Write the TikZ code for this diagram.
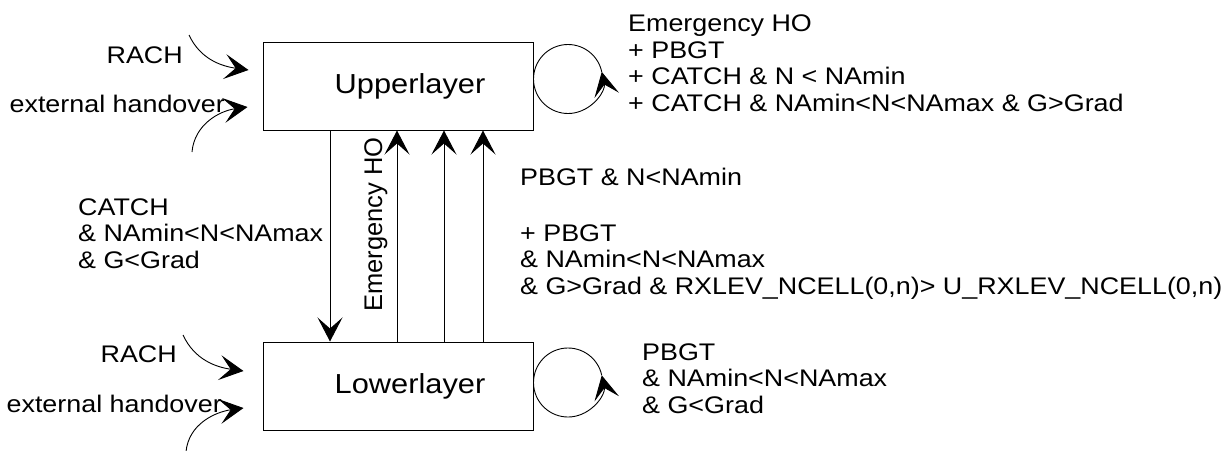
\documentclass[tikz,border=0pt]{standalone}
\usepackage{fontspec}
\newfontfamily\labelfont{Liberation Sans}[FakeStretch=1.12]
\newfontfamily\upfont{Liberation Sans}
\usetikzlibrary{arrows.meta,positioning}

\begin{document}
\begin{tikzpicture}[x=1pt,y=1pt,
          node distance=211pt,
          every node/.style={font=\labelfont\fontsize{24}{26.5}\selectfont,inner sep=0pt},
          layerbox/.style={draw,line width=1pt,minimum width=270pt,minimum height=88pt,
              font=\labelfont\fontsize{27.5}{30}\selectfont},
          cond/.style={align=left,anchor=base west},
          flow/.style={line width=0.9pt,-{Stealth[length=24pt,width=25pt,inset=11pt]}}]
        \useasboundingbox (0,0) rectangle (1228,-450);
        \node[layerbox] (up) at (398,-86) {\hspace*{24pt}Upperlayer};
        \node[layerbox,below=of up] (low) {\hspace*{24pt}Lowerlayer};
        \node[anchor=base east] (upRach) at (183,-63) {RACH};
        \node[anchor=base east] (upExt) at (225,-112) {external handover};
        \node[anchor=base east] (lowRach) at (177,-362) {RACH};
        \node[anchor=base east] (lowExt) at (222,-412) {external handover};
        \node[cond] (upCond) at (628,-111) {Emergency HO\\+ PBGT\\+ CATCH \& N < NAmin\\+ CATCH \& NAmin<N<NAmax \& G>Grad};
        \node[cond] (downCond) at (78,-268) {CATCH\\\& NAmin<N<NAmax\\\& G<Grad};
        \node[cond] (pbgtCond) at (520,-185) {PBGT \& N<NAmin};
        \node[cond] (plusCond) at (520,-294) {+ PBGT\\\& NAmin<N<NAmax\\\& G>Grad \& RXLEV\_NCELL(0,n)> U\_RXLEV\_NCELL(0,n)};
        \node[cond] (lowCond) at (642,-413) {PBGT\\\& NAmin<N<NAmax\\\& G<Grad};
        \node[rotate=90,anchor=base west,font=\upfont\fontsize{25.5}{28}\selectfont] (emgLabel) at (382,-312) {Emergency HO};
        \coordinate (upRachFrom) at (189,-35);
        \coordinate (upRachTo) at ([shift={(-14,16)}]up.west);
        \coordinate (upExtFrom) at (192,-152);
        \coordinate (upExtTo) at ([shift={(-15,-21)}]up.west);
        \coordinate (lowRachFrom) at (183,-335);
        \coordinate (lowRachTo) at ([shift={(-19,15)}]low.west);
        \coordinate (lowExtFrom) at (186,-452);
        \coordinate (lowExtTo) at ([shift={(-19,-22)}]low.west);
        \coordinate (upLoop) at ([shift={(34.5,7)}]up.east);
        \coordinate (lowLoop) at ([shift={(34.5,3.5)}]low.east);
        \draw[flow] (upRachFrom) to[out=-65,in=172] (upRachTo);
        \draw[flow] (lowRachFrom) to[out=-65,in=172] (lowRachTo);
        \draw[flow] (upExtFrom) to[out=85,in=188] (upExtTo);
        \draw[flow] (lowExtFrom) to[out=85,in=188] (lowExtTo);
        \draw[flow] ([xshift=-68pt]up.south) -- ([xshift=-68pt]low.north);
        \foreach \dx in {-1,46,85}
        \draw[flow] ([xshift=\dx pt]low.north) -- ([xshift=\dx pt]up.south);
        \foreach \c in {upLoop,lowLoop}
        \draw[flow] (\c) ++(12:34.5pt) arc[start angle=12,end angle=372,radius=34.5pt];
      \end{tikzpicture}
\end{document}
